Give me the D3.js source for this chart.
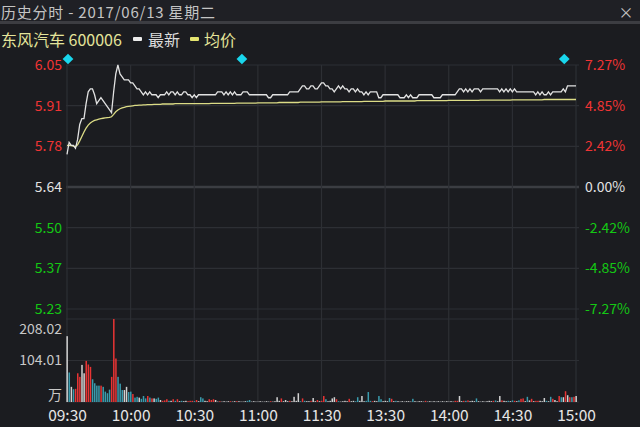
<!DOCTYPE html>
<html><head><meta charset="utf-8">
<script src="https://cdn.jsdelivr.net/npm/d3@7"></script>
<style>html,body{margin:0;padding:0;background:#1b1c20;}svg{display:block;}</style>
</head><body>
<svg id="c" width="640" height="427"></svg>
<script>
const title = "历史分时 - 2017/06/13 星期二";
const stockName = "东风汽车 600006";
const legendItems = ["最新", "均价"];
const timeLabels = ["09:30","10:00","10:30","11:00","11:30","13:30","14:00","14:30","15:00"];
const timeTickIdx = [0,30,60,90,120,150,180,210,240];
const pctValues = [7.27,4.85,2.42,0,-2.42,-4.85,-7.27];
const priceLabels = ["6.05","5.91","5.78","5.64","5.50","5.37","5.23"];
const pctLabels = ["7.27%","4.85%","2.42%","0.00%","-2.42%","-4.85%","-7.27%"];
const volTickValues = [208.02,104.01,0];
const volLabels = ["208.02","104.01","万"];
const prevClose = 5.64;
const eventIdx = [0,82,234];

const price = [
5.75,5.79,5.78,5.78,5.77,5.80,5.85,5.87,5.87,5.92,
5.96,5.97,5.97,5.95,5.92,5.93,5.94,5.93,5.92,5.91,
5.90,5.89,5.96,6.02,6.05,6.02,6.01,6.00,6.00,6.00,
5.99,5.99,5.98,5.97,5.97,5.96,5.95,5.96,5.95,5.96,
5.95,5.95,5.95,5.94,5.95,5.95,5.95,5.96,5.95,5.96,
5.96,5.95,5.96,5.95,5.95,5.96,5.96,5.95,5.95,5.94,
5.95,5.94,5.95,5.95,5.95,5.95,5.95,5.95,5.95,5.95,
5.95,5.96,5.96,5.96,5.95,5.96,5.95,5.96,5.95,5.96,
5.95,5.95,5.95,5.96,5.96,5.96,5.95,5.95,5.95,5.95,
5.95,5.95,5.95,5.95,5.95,5.94,5.94,5.95,5.95,5.95,
5.95,5.95,5.95,5.95,5.95,5.96,5.96,5.96,5.96,5.96,
5.97,5.98,5.98,5.97,5.97,5.98,5.98,5.97,5.97,5.98,
5.99,5.99,5.98,5.98,5.97,5.97,5.96,5.97,5.98,5.97,
5.98,5.97,5.97,5.96,5.97,5.97,5.96,5.97,5.96,5.96,
5.95,5.96,5.95,5.96,5.96,5.96,5.96,5.94,5.94,5.95,
5.95,5.95,5.95,5.95,5.95,5.95,5.95,5.94,5.94,5.94,
5.95,5.94,5.95,5.94,5.94,5.94,5.95,5.95,5.95,5.95,
5.95,5.95,5.95,5.94,5.94,5.94,5.94,5.95,5.95,5.95,
5.95,5.95,5.95,5.95,5.96,5.97,5.97,5.96,5.97,5.96,
5.97,5.96,5.97,5.97,5.97,5.96,5.97,5.97,5.97,5.97,
5.97,5.97,5.97,5.97,5.96,5.97,5.96,5.97,5.96,5.97,
5.96,5.97,5.96,5.96,5.96,5.96,5.96,5.96,5.96,5.96,
5.96,5.95,5.96,5.95,5.96,5.95,5.95,5.96,5.95,5.96,
5.96,5.96,5.96,5.96,5.97,5.96,5.98,5.98,5.98,5.98,
5.98];

const avgPrice = [
5.780,5.780,5.779,5.777,5.776,5.782,5.795,5.810,5.825,5.838,
5.848,5.855,5.860,5.864,5.866,5.868,5.870,5.871,5.872,5.873,
5.874,5.876,5.884,5.893,5.899,5.903,5.906,5.908,5.910,5.911,
5.912,5.913,5.914,5.914,5.915,5.915,5.916,5.916,5.917,5.917,
5.917,5.918,5.918,5.918,5.918,5.919,5.919,5.919,5.919,5.919,
5.919,5.920,5.920,5.920,5.920,5.920,5.920,5.920,5.920,5.920,
5.920,5.920,5.920,5.920,5.920,5.920,5.920,5.920,5.921,5.921,
5.921,5.921,5.921,5.921,5.921,5.921,5.921,5.921,5.921,5.921,
5.922,5.922,5.922,5.922,5.922,5.922,5.922,5.922,5.922,5.922,
5.923,5.923,5.923,5.923,5.923,5.923,5.923,5.923,5.923,5.923,
5.924,5.924,5.924,5.924,5.924,5.924,5.924,5.924,5.924,5.924,
5.925,5.925,5.925,5.925,5.925,5.925,5.925,5.925,5.925,5.925,
5.926,5.926,5.926,5.926,5.926,5.926,5.926,5.926,5.926,5.926,
5.927,5.927,5.927,5.927,5.927,5.927,5.927,5.927,5.927,5.927,
5.928,5.928,5.928,5.928,5.928,5.928,5.928,5.928,5.928,5.928,
5.929,5.929,5.929,5.929,5.929,5.929,5.929,5.929,5.929,5.929,
5.929,5.929,5.929,5.929,5.929,5.930,5.930,5.930,5.930,5.930,
5.930,5.930,5.930,5.930,5.930,5.930,5.930,5.930,5.930,5.930,
5.931,5.931,5.931,5.931,5.931,5.931,5.931,5.931,5.931,5.931,
5.931,5.931,5.931,5.931,5.931,5.932,5.932,5.932,5.932,5.932,
5.932,5.932,5.932,5.932,5.932,5.932,5.932,5.932,5.932,5.932,
5.933,5.933,5.933,5.933,5.933,5.933,5.933,5.933,5.933,5.933,
5.933,5.933,5.933,5.933,5.933,5.934,5.934,5.934,5.934,5.934,
5.934,5.934,5.934,5.934,5.934,5.934,5.934,5.934,5.934,5.934,
5.934];

const volume = [
165,74,38,32,33,72,63,93,72,103,
94,88,57,47,41,41,41,38,26,22,
31,63,208.02,109,63,46,30,30,38,25,
26,20,11,13,11,8,15,9,15,11,
9,9,8,11,5,3,4,7,3,3,
7,3,7,2,3,2,3,2,3,3,
2,5,2,12,9,3,2,7,5,7,
5,1,2,1,2,1,2,2,1,2,
2,2,1,1,2,3,5,1,2,1,
1,2,1,1,2,1,2,1,2,12,
3,9,2,5,2,3,2,13,3,22,
2,9,3,2,2,3,10,2,5,2,
3,15,7,2,3,9,12,7,2,1,
2,3,2,8,2,3,2,12,3,15,
2,3,25,3,2,3,2,15,7,2,
3,2,10,8,2,3,2,1,2,1,
2,2,1,8,2,1,2,2,1,3,
1,2,1,2,1,2,1,2,1,2,
1,2,1,3,3,15,2,3,3,4,
2,3,2,9,2,1,2,1,2,3,
2,3,4,2,15,4,3,2,3,2,
4,3,2,4,8,9,2,13,4,8,
2,3,3,3,2,10,3,2,13,8,
5,2,15,12,12,27,17,12,12,13,
15];

const volDir = (
"wgwgrrrwwr"+"rrggggrggg"+"grrrgggwwg"+"grggwgggrg"+
"rwggwrrrgw"+"rgrwgwwrrr"+"grwggwwrrr"+"wwrwwwwrww"+
"rwwwwggwww"+"wwwwwwrwww"+"wrwwwrwwww"+"grgwwrwwrw"+
"rrgwwwwrgw"+"wwwrwwggww"+"wgggrwwggw"+"wwgrwgwwww"+
"wwwgwwwwwr"+"wwwwwwwwww"+"wwwrrwwrgr"+"wwwgwwwwww"+
"wrgwwrwwgw"+"grwgrrwgwr"+"wrrwwwgwgr"+"wwrgwrwrgr"+"w").split("");

const svg = d3.select("#c");
const W = 640, H = 427;
const FONT = "'Noto Sans CJK SC','Noto Sans',sans-serif";
const C = {bg:"#1b1c20", grid:"#2d2f34", base:"#3b3d42", red:"#f03434", green:"#14c814",
  white:"#e2e2e2", yellow:"#dcdc86", teal:"#3a9cae", wbar:"#d2d2d2", rbar:"#e83434", cyan:"#19d6ec"};

svg.append("rect").attr("width",W).attr("height",H).attr("fill",C.bg);
svg.append("rect").attr("width",W).attr("height",22).attr("fill","#1f2025");
svg.append("rect").attr("y",21).attr("width",W).attr("height",3).attr("fill","#3c3d42");

svg.append("text").attr("x",1).attr("y",17.5).text(title)
  .attr("textLength",214).attr("lengthAdjust","spacing")
  .attr("font-family",FONT).attr("font-size",15).attr("fill","#c4c4c4");
svg.append("text").attr("x",626).attr("y",17.5).attr("text-anchor","middle").text("×")
  .attr("font-family",FONT).attr("font-size",15).attr("fill","#c4c4c4");

// legend
const lg = svg.append("g").attr("font-family",FONT).attr("font-size",16);
lg.append("text").attr("x",1).attr("y",46).text(stockName).attr("fill","#e4e49a");
lg.append("rect").attr("x",133).attr("y",37).attr("width",9).attr("height",4).attr("rx",1).attr("fill","#ececec");
lg.append("text").attr("x",148).attr("y",46).text(legendItems[0]).attr("fill","#dcdcdc");
lg.append("rect").attr("x",190).attr("y",37).attr("width",9).attr("height",4).attr("rx",1).attr("fill","#e4e470");
lg.append("text").attr("x",204).attr("y",46).text(legendItems[1]).attr("fill","#e4e49a");

const x = d3.scaleLinear().domain([0,240]).range([67,576]);
const y = d3.scaleLinear().domain([prevClose*(1-0.0727), prevClose*(1+0.0727)]).range([309,65]);
const yPct = d3.scaleLinear().domain([-7.27,7.27]).range([309,65]);
const yVol = d3.scaleLinear().domain([0,208.02]).range([402,319]);

// grid
const grid = svg.append("g");
pctValues.forEach(v => {
  grid.append("line").attr("x1",66).attr("x2",579).attr("y1",yPct(v)).attr("y2",yPct(v))
    .attr("stroke", v===0 ? C.base : C.grid).attr("stroke-width", v===0 ? 2.5 : 1.2);
});
volTickValues.forEach(v => {
  grid.append("line").attr("x1",66).attr("x2",579).attr("y1",yVol(v)).attr("y2",yVol(v))
    .attr("stroke",C.grid).attr("stroke-width",1.2);
});
timeTickIdx.forEach(i => {
  grid.append("line").attr("x1",x(i)).attr("x2",x(i)).attr("y1",65).attr("y2",402)
    .attr("stroke",C.grid).attr("stroke-width",1.2);
});

// axes
const lab = v => v>0 ? C.red : (v<0 ? C.green : C.white);
const axL = svg.append("g").attr("transform","translate(62,0)")
  .call(d3.axisLeft(yPct).tickValues(pctValues).tickSize(0).tickPadding(0).tickFormat((d,i)=>priceLabels[i]));
axL.select(".domain").remove();
axL.selectAll("text").attr("font-family",FONT).attr("font-size",14).attr("fill",d=>lab(d));
const axR = svg.append("g").attr("transform","translate(585,0)")
  .call(d3.axisRight(yPct).tickValues(pctValues).tickSize(0).tickPadding(0).tickFormat((d,i)=>pctLabels[i]));
axR.select(".domain").remove();
axR.selectAll("text").attr("font-family",FONT).attr("font-size",14).attr("fill",d=>lab(d));
const axV = svg.append("g").attr("transform","translate(62,0)")
  .call(d3.axisLeft(yVol).tickValues(volTickValues).tickSize(0).tickPadding(0).tickFormat((d,i)=>volLabels[i]));
axV.select(".domain").remove();
axV.selectAll("text").attr("font-family",FONT).attr("font-size",14).attr("fill","#c8c8c8")
  .attr("dy",(d,i)=> i===0 ? "1.05em" : (i===2 ? "-0.2em" : "0.32em"));
const axT = svg.append("g").attr("transform","translate(0,402)")
  .call(d3.axisBottom(x).tickValues(timeTickIdx).tickSize(0).tickPadding(8).tickFormat((d,i)=>timeLabels[i]));
axT.select(".domain").remove();
axT.selectAll("text").attr("font-family",FONT).attr("font-size",15.5).attr("fill","#e6e6e6");

// volume bars
const barColor = {w:C.wbar, r:C.rbar, g:C.teal};
svg.append("g").selectAll("rect").data(volume).join("rect")
  .attr("x",(d,i)=>x(i)-0.6).attr("width",1.5)
  .attr("y",d=>yVol(d)).attr("height",d=>yVol(0)-yVol(d))
  .attr("fill",(d,i)=>barColor[volDir[i]]);

// lines
const line = d3.line().x((d,i)=>x(i)).y(d=>y(d));
svg.append("path").attr("d",line(avgPrice)).attr("fill","none").attr("stroke",C.yellow).attr("stroke-width",1.3);
svg.append("path").attr("d",line(price)).attr("fill","none").attr("stroke",C.white).attr("stroke-width",1.3);

// event markers
svg.append("g").selectAll("rect").data(eventIdx).join("rect")
  .attr("x",-3.8).attr("y",-3.8).attr("width",7.6).attr("height",7.6)
  .attr("transform",d=>`translate(${x(d)+1},59) rotate(45)`).attr("fill",C.cyan);
</script>
</body></html>
